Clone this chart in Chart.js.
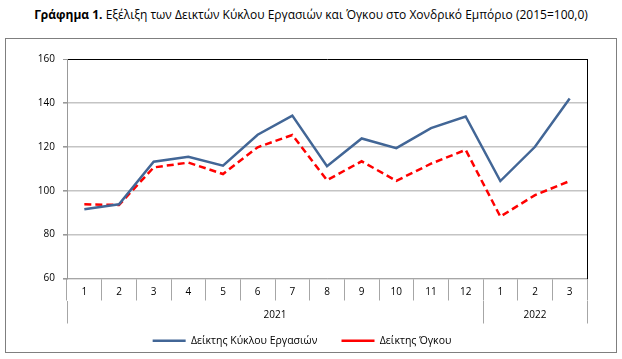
<!DOCTYPE html>
<html>
<head>
<meta charset="utf-8">
<script src="https://cdn.jsdelivr.net/npm/chart.js@4.4.1/dist/chart.umd.min.js"></script>
<style>
  body { margin: 0; background: #fff; width: 622px; height: 359px; position: relative; overflow: hidden; }
  #titlos { position: absolute; left: 0; top: 6px; width: 622px; text-align: center;
            font-family: "Open Sans", sans-serif; font-size: 12px; color: #000; white-space: nowrap; }
  #plaisio { position: absolute; left: 5px; top: 38px; width: 612px; height: 315px;
             border: 1px solid #7f7f7f; box-sizing: border-box; }
  #wrap { position: absolute; left: 0; top: 0; width: 610px; height: 313px; overflow: hidden; }
</style>
</head>
<body>
<div id="titlos"><b>Γράφημα 1.</b> Εξέλιξη των Δεικτών Κύκλου Εργασιών και Όγκου στο Χονδρικό Εμπόριο (2015=100,0)</div>
<div id="plaisio"><div id="wrap"><canvas id="grafima"></canvas></div></div>
<script>
const mines = ['1', '2', '3', '4', '5', '6', '7', '8', '9', '10', '11', '12', '1', '2', '3'];
const eti = ['2021', '2022'];
const kyklosErgasion = [91.5, 93.8, 113.2, 115.5, 111.4, 125.5, 134.2, 111.2, 123.8, 119.4, 128.5, 133.8, 104.4, 120.0, 142.0];
const ogkos = [93.8, 93.5, 110.6, 112.8, 107.6, 119.8, 125.4, 104.8, 113.4, 104.5, 112.3, 118.6, 88.2, 98.0, 104.4];
const yTicks = [60, 80, 100, 120, 140, 160];

const grammes = '#a6a6a6';
const font = { family: 'Open Sans', size: 10 };

const ctx = document.getElementById('grafima').getContext('2d');
new Chart(ctx, {
    type: 'line',
    data: {
        labels: mines,
        datasets: [
            {
                label: 'Δείκτης Κύκλου Εργασιών',
                data: kyklosErgasion,
                borderColor: '#426696',
                backgroundColor: '#426696',
                borderWidth: 2.5,
                pointRadius: 0,
                tension: 0
            },
            {
                label: 'Δείκτης Όγκου',
                data: ogkos,
                borderColor: '#ff0000',
                backgroundColor: '#ff0000',
                borderWidth: 2.5,
                borderDash: [7, 4],
                pointRadius: 0,
                tension: 0
            }
        ]
    },
    options: {
        responsive: true,
        maintainAspectRatio: false,
        animation: false,
        layout: { padding: { left: 11, right: 29, top: 20, bottom: -4 } },
        plugins: {
            legend: {
                position: 'bottom',
                labels: {
                    usePointStyle: true,
                    pointStyle: 'line',
                    pointStyleWidth: 33,
                    padding: 5,
                    color: '#000',
                    font: { family: 'Open Sans', size: 10.5 },
                    // κενό ανάμεσα στα δύο στοιχεία του υπομνήματος
                    generateLabels: chart => Chart.defaults.plugins.legend.labels.generateLabels(chart).map((l, i) => {
                        if (i === 0) l.text = l.text + '       ';
                        return l;
                    })
                }
            },
            tooltip: { enabled: false }
        },
        scales: {
            x: {
                weight: 0,
                offset: true,
                grid: { offset: true, drawOnChartArea: false, tickLength: 22, color: grammes },
                border: { color: grammes },
                ticks: { padding: -14, color: '#000', font: font, maxRotation: 0, autoSkip: false },
                afterFit: s => { s.height = 22; }
            },
            x2: {
                type: 'linear',
                position: 'bottom',
                weight: 1,
                min: 0,
                max: 15,
                afterBuildTicks: s => { s.ticks = [0, 6, 12, 13.5, 15].map(v => ({ value: v })); },
                grid: {
                    drawOnChartArea: false,
                    tickLength: 23,
                    color: c => [0, 12, 15].includes(c.tick.value) ? grammes : 'rgba(0,0,0,0)'
                },
                border: { display: false },
                ticks: {
                    padding: -14,
                    color: '#000',
                    font: font,
                    maxRotation: 0,
                    autoSkip: false,
                    callback: v => v === 6 ? eti[0] : (v === 13.5 ? eti[1] : '')
                },
                afterFit: s => { s.height = 30; }
            },
            y: {
                min: 60,
                max: 160,
                afterBuildTicks: s => { s.ticks = yTicks.map(v => ({ value: v })); },
                grid: {
                    color: c => c.tick.value === 160 ? '#000' : '#c4c4c4',
                    lineWidth: c => c.tick.value === 160 ? 1 : 1.6,
                    tickLength: 4,
                    tickColor: '#999'
                },
                border: { color: '#999' },
                ticks: { padding: 8, color: '#000', font: font },
                afterFit: s => { s.width = 50; }
            },
            y2: {
                position: 'right',
                min: 60,
                max: 160,
                grid: { display: false },
                ticks: { display: false },
                border: { color: '#000' },
                afterFit: s => { s.width = 0; }
            }
        }
    }
});
</script>
</body>
</html>
